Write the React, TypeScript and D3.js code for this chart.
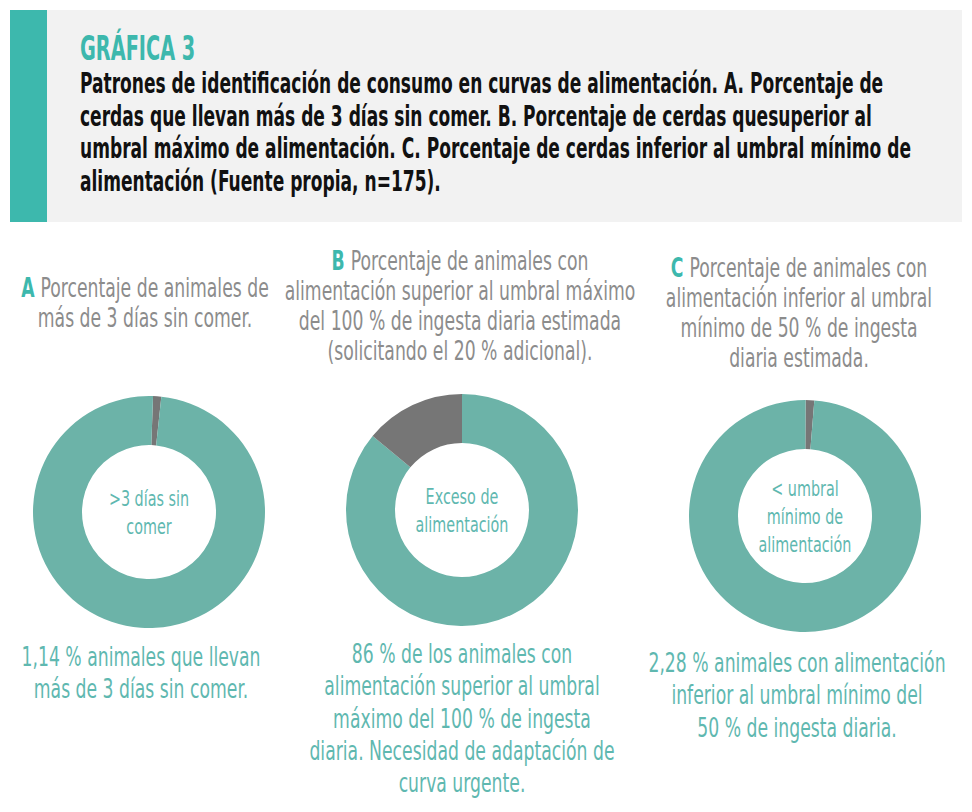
import React, { useEffect, useRef } from "react";
import * as d3 from "d3";

// chart values
const panels = ["A", "B", "C"];
const grayShare = [1.14, 14, 1.2];
const tealShare = [98.86, 86, 98.8];
const grayFirst = [true, false, true];

const titleLines = [
  "Patrones de identificación de consumo en curvas de alimentación. A. Porcentaje de",
  "cerdas que llevan más de 3 días sin comer. B. Porcentaje de cerdas quesuperior al",
  "umbral máximo de alimentación. C. Porcentaje de cerdas inferior al umbral mínimo de",
  "alimentación (Fuente propia, n=175).",
];

const subtitleLines = [
  ["Porcentaje de animales de", "más de 3 días sin comer."],
  [
    "Porcentaje de animales con",
    "alimentación superior al umbral máximo",
    "del 100 % de ingesta diaria estimada",
    "(solicitando el 20 % adicional).",
  ],
  [
    "Porcentaje de animales con",
    "alimentación inferior al umbral",
    "mínimo de 50 % de ingesta",
    "diaria estimada.",
  ],
];

const centerLabels = [
  [">3 días sin", "comer"],
  ["Exceso de", "alimentación"],
  ["< umbral", "mínimo de", "alimentación"],
];

const captionLines = [
  ["1,14 % animales que llevan", "más de 3 días sin comer."],
  [
    "86 % de los animales con",
    "alimentación superior al umbral",
    "máximo del 100 % de ingesta",
    "diaria. Necesidad de adaptación de",
    "curva urgente.",
  ],
  [
    "2,28 % animales con alimentación",
    "inferior al umbral mínimo del",
    "50 % de ingesta diaria.",
  ],
];

const W = 972;
const H = 812;
const FONT = "'DejaVu Sans Condensed', 'DejaVu Sans', sans-serif";
const TEAL = "#6cb3a8";
const GRAY = "#767676";
const ACCENT = "#3db8ad";
const LABEL = "#5fb8b0";
const SUB = "#8c8c8c";

// layout per panel
const cx = [149, 462, 805];
const cy = [512, 510, 516];
const subTop = [297, 270, 277];
const capTop = [666, 663, 672];
const subCx = [145, 460, 799];
const capCx = [141, 462, 797];
const startOffset = [2, 0, 0.3];

export default function App() {
  const ref = useRef<SVGSVGElement | null>(null);

  useEffect(() => {
    const svg = d3.select(ref.current);
    svg.selectAll("*").remove();

    // header box
    svg.append("rect").attr("x", 10).attr("y", 10).attr("width", 952).attr("height", 212).attr("fill", "#f2f2f2");
    svg.append("rect").attr("x", 10).attr("y", 10).attr("width", 37).attr("height", 212).attr("fill", ACCENT);

    const squeezed = (g: any, x: number, y: number, anchor: string, sx: number) =>
      g.append("text")
        .attr("transform", `translate(${x},${y}) scale(${sx},1)`)
        .attr("text-anchor", anchor)
        .attr("font-family", FONT);

    squeezed(svg, 80, 60, "start", 0.65)
      .attr("font-size", 33).attr("font-weight", "bold").attr("fill", ACCENT)
      .text("GRÁFICA 3");

    titleLines.forEach((t, i) => {
      squeezed(svg, 80, 93 + i * 32.5, "start", 0.69)
        .attr("font-size", 27.5).attr("font-weight", "bold").attr("fill", "#111")
        .text(t);
    });

    const arc = d3.arc<d3.PieArcDatum<number>>().innerRadius(67).outerRadius(116);

    panels.forEach((p, k) => {
      const vals = grayFirst[k] ? [grayShare[k], tealShare[k]] : [tealShare[k], grayShare[k]];
      const cols = grayFirst[k] ? [GRAY, TEAL] : [TEAL, GRAY];
      const off = (startOffset[k] * Math.PI) / 180;
      const pie = d3.pie<number>().sort(null).value((d) => d)
        .startAngle(off).endAngle(off + 2 * Math.PI);

      const g = svg.append("g").attr("transform", `translate(${cx[k]},${cy[k]})`);
      g.selectAll("path")
        .data(pie(vals))
        .enter()
        .append("path")
        .attr("d", arc as any)
        .attr("fill", (d, i) => cols[i]);

      // centre text
      const cl = centerLabels[k];
      cl.forEach((t, i) => {
        squeezed(g, 0, (i - (cl.length - 1) / 2) * 28 + 8, "middle", 0.76)
          .attr("font-size", 21).attr("fill", LABEL)
          .text(t);
      });

      // subtitle with panel letter
      subtitleLines[k].forEach((t, i) => {
        const txt = squeezed(svg, subCx[k], subTop[k] + i * 30, "middle", 0.71)
          .attr("font-size", 27).attr("fill", SUB);
        if (i === 0) {
          txt.append("tspan").attr("fill", ACCENT).attr("font-weight", "bold").text(p + " ");
        }
        txt.append("tspan").text(t);
      });

      // caption under donut
      captionLines[k].forEach((t, i) => {
        squeezed(svg, capCx[k], capTop[k] + i * 32.3, "middle", 0.71)
          .attr("font-size", 27).attr("fill", LABEL)
          .text(t);
      });
    });
  }, []);

  return (
    <svg ref={ref} width={W} height={H} style={{ display: "block", margin: "-8px" }} />
  );
}
